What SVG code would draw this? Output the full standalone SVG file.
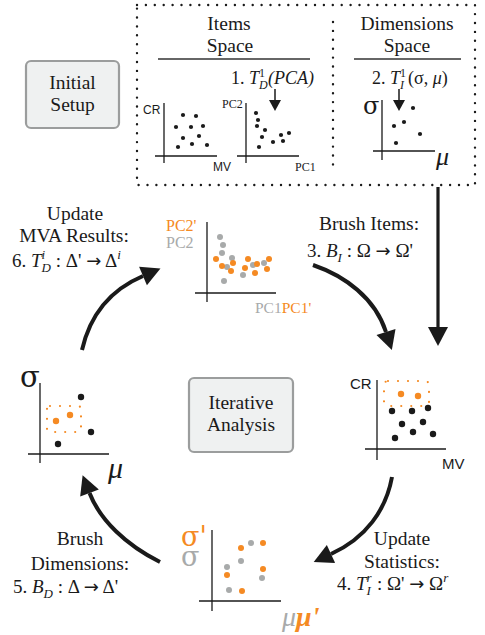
<svg xmlns="http://www.w3.org/2000/svg" width="485" height="635" viewBox="0 0 485 635">
<style>
.s{font-family:"Liberation Serif","Times New Roman",serif;fill:#1a1a1a}
.t{font-size:19.5px;text-anchor:middle}
.f{font-size:19px}
.i{font-style:italic}
.g{font-family:"DejaVu Serif",serif}
.a{font-family:"DejaVu Sans",sans-serif;font-size:18px}
.ss{font-family:"Liberation Sans",Arial,sans-serif;fill:#1a1a1a}
.ax{stroke:#1a1a1a;stroke-width:1.3;fill:none}
.dk{fill:#1a1a1a}
.or{fill:#f58a23}
.gr{fill:#a8aaaa}
.ot{fill:#f58a23}
.gt{fill:#a8aaaa}
.box{fill:#eff1f1;stroke:#9b9d9d;stroke-width:2.2}
.arr{stroke:#1a1a1a;stroke-width:4;fill:none}
.odot{fill:none;stroke:#f58a23;stroke-width:2.2;stroke-linecap:round;stroke-dasharray:0 10}
</style>
<defs>
<marker id="ah" markerUnits="userSpaceOnUse" markerWidth="20" markerHeight="22" refX="0" refY="11" orient="auto" overflow="visible">
<path d="M0,1 L19,11 L0,21 Z" fill="#1a1a1a"/>
</marker>
<marker id="ahs" markerUnits="userSpaceOnUse" markerWidth="12" markerHeight="12" refX="0" refY="6" orient="auto" overflow="visible">
<path d="M0,0 L11,6 L0,12 Z" fill="#1a1a1a"/>
</marker>
</defs>

<g id="initial-setup">
<rect class="box" x="26" y="61" width="93" height="67" rx="5"/>
<text class="s t" x="72.5" y="89">Initial</text>
<text class="s t" x="72.5" y="111">Setup</text>
</g>

<g id="setup-frame">
<rect x="137" y="5" width="338" height="180" fill="none" stroke="#1a1a1a" stroke-width="2.4" stroke-linecap="round" stroke-dasharray="0 8.9"/>
<line x1="333" y1="22" x2="333" y2="166" stroke="#1a1a1a" stroke-width="2.4" stroke-linecap="round" stroke-dasharray="0 8.9"/>
</g>

<g id="items-space">
<text class="s t" x="229" y="30">Items</text>
<text class="s t" x="230" y="52">Space</text>
<line x1="158" y1="59" x2="310" y2="59" stroke="#333" stroke-width="1.5"/>
<text class="s" x="231" y="84" font-size="18">1. <tspan class="i">T</tspan><tspan class="i" font-size="12" dy="5">D</tspan><tspan font-size="12" dx="-8.7" dy="-12">1</tspan><tspan class="i" dx="3" dy="7">(PCA)</tspan></text>
</g>

<g id="plot-cr-mv">
<line class="ax" x1="164" y1="103" x2="164" y2="163"/>
<line class="ax" x1="155" y1="156" x2="217" y2="156"/>
<text class="ss" x="143" y="114" font-size="12">CR</text>
<text class="ss" x="213" y="171" font-size="12">MV</text>
<g class="dk">
<circle cx="183" cy="115" r="2.1"/><circle cx="196" cy="116" r="2.1"/><circle cx="176" cy="127" r="2.1"/><circle cx="191" cy="127" r="2.1"/><circle cx="203" cy="126" r="2.1"/><circle cx="183" cy="138" r="2.1"/><circle cx="199" cy="136" r="2.1"/><circle cx="178" cy="147" r="2.1"/><circle cx="192" cy="144" r="2.1"/><circle cx="207" cy="145" r="2.1"/>
</g>
</g>

<g id="plot-pca">
<line class="ax" x1="246" y1="103" x2="246" y2="163"/>
<line class="ax" x1="237" y1="156" x2="299" y2="156"/>
<text class="s" x="222" y="108" font-size="12">PC2</text>
<text class="s" x="295" y="171" font-size="12">PC1</text>
<g class="dk">
<circle cx="256" cy="113" r="2.1"/><circle cx="258" cy="120" r="2.1"/><circle cx="257" cy="126" r="2.1"/><circle cx="265" cy="130" r="2.1"/><circle cx="262" cy="137" r="2.1"/><circle cx="259" cy="147" r="2.1"/><circle cx="273" cy="142" r="2.1"/><circle cx="283" cy="141" r="2.1"/><circle cx="281" cy="135" r="2.1"/><circle cx="289" cy="133" r="2.1"/>
</g>
</g>

<g id="dimensions-space">
<text class="s t" x="407" y="30">Dimensions</text>
<text class="s t" x="407" y="52">Space</text>
<line x1="354" y1="59" x2="461" y2="59" stroke="#333" stroke-width="1.5"/>
<text class="s" x="372" y="84" font-size="18">2. <tspan class="i">T</tspan><tspan class="i" font-size="12" dy="5">I</tspan><tspan font-size="12" dx="-4" dy="-12">1</tspan><tspan dx="2" dy="7">(σ, <tspan class="i">μ</tspan>)</tspan></text>
</g>

<g id="plot-dims">
<line class="ax" x1="382" y1="100" x2="382" y2="160"/>
<line class="ax" x1="373" y1="151" x2="435" y2="151"/>
<text class="s g" x="363" y="114" font-size="24">σ</text>
<text class="s i" x="436" y="165" font-size="26">μ</text>
<g class="dk">
<circle cx="413" cy="108" r="2.1"/><circle cx="404" cy="122" r="2.1"/><circle cx="394" cy="126" r="2.1"/><circle cx="420" cy="134" r="2.1"/><circle cx="396" cy="143" r="2.1"/>
</g>
</g>

<g id="iterative-analysis">
<rect class="box" x="189" y="378" width="104" height="74" rx="5"/>
<text class="s t" x="241" y="409">Iterative</text>
<text class="s t" x="241" y="431">Analysis</text>
</g>

<g id="plot-mva">
<line class="ax" x1="207" y1="222" x2="207" y2="302"/>
<line class="ax" x1="195" y1="293" x2="276" y2="293"/>
<text class="s ot" x="166" y="231" font-size="16">PC2'</text>
<text class="s gt" x="166" y="248" font-size="16">PC2</text>
<text class="s" x="255" y="313" font-size="15.5"><tspan class="gt">PC1</tspan><tspan class="ot">PC1'</tspan></text>
<g class="gr">
<circle cx="220" cy="237" r="3"/><circle cx="223" cy="245" r="3"/><circle cx="222" cy="253" r="3"/><circle cx="232" cy="258" r="3"/><circle cx="227" cy="267" r="3"/><circle cx="224" cy="281" r="3"/><circle cx="243" cy="275" r="3"/><circle cx="253" cy="265" r="3"/><circle cx="264" cy="263" r="3"/>
</g>
<g class="or">
<circle cx="216" cy="259" r="3"/><circle cx="222" cy="266" r="3"/><circle cx="233" cy="263" r="3"/><circle cx="231" cy="271" r="3"/><circle cx="248" cy="259" r="3"/><circle cx="245" cy="268" r="3"/><circle cx="257" cy="264" r="3"/><circle cx="255" cy="273" r="3"/><circle cx="269" cy="259" r="3"/><circle cx="267" cy="269" r="3"/>
</g>
</g>

<g id="plot-items-brush">
<line class="ax" x1="377" y1="380" x2="377" y2="460"/>
<line class="ax" x1="365" y1="449" x2="446" y2="449"/>
<text class="ss" x="350" y="389" font-size="15">CR</text>
<text class="ss" x="442" y="469" font-size="15">MV</text>
<rect class="odot" x="384" y="381" width="45" height="25" rx="4"/>
<g class="or"><circle cx="401" cy="394" r="3.2"/><circle cx="418" cy="396" r="3.2"/></g>
<g class="dk">
<circle cx="392" cy="411" r="3.2"/><circle cx="412" cy="411" r="3.2"/><circle cx="428" cy="408" r="3.2"/><circle cx="402" cy="424" r="3.2"/><circle cx="423" cy="422" r="3.2"/><circle cx="395" cy="438" r="3.2"/><circle cx="413" cy="432" r="3.2"/><circle cx="433" cy="434" r="3.2"/>
</g>
</g>

<g id="plot-dims-brush">
<line class="ax" x1="40" y1="383" x2="40" y2="463"/>
<line class="ax" x1="28" y1="454" x2="109" y2="454"/>
<text class="s g" x="20" y="387" font-size="29">σ</text>
<text class="s i" x="108" y="478" font-size="30">μ</text>
<rect class="odot" x="47" y="406" width="34" height="26" rx="3"/>
<g class="or"><circle cx="56" cy="421" r="3.2"/><circle cx="70" cy="415" r="3.2"/></g>
<g class="dk"><circle cx="81" cy="397" r="3.2"/><circle cx="91" cy="432" r="3.2"/><circle cx="58" cy="444" r="3.2"/></g>
</g>

<g id="plot-stats">
<line class="ax" x1="212" y1="530" x2="212" y2="611"/>
<line class="ax" x1="199" y1="601" x2="281" y2="601"/>
<text class="s g ot" x="181" y="546" font-size="27">σ'</text>
<text class="s g gt" x="181" y="566" font-size="27">σ</text>
<text class="s i" x="282" y="626" font-size="28"><tspan class="gt">μ</tspan><tspan class="ot" font-weight="bold">μ'</tspan></text>
<g class="gr"><circle cx="251" cy="543" r="3"/><circle cx="241" cy="561" r="3"/><circle cx="227" cy="567" r="3"/><circle cx="262" cy="578" r="3"/><circle cx="229" cy="590" r="3"/></g>
<g class="or"><circle cx="263" cy="543" r="3"/><circle cx="241" cy="548" r="3"/><circle cx="227" cy="575" r="3"/><circle cx="263" cy="569" r="3"/><circle cx="242" cy="591" r="3"/></g>
</g>

<g id="connectors">
<line x1="275" y1="89" x2="275" y2="100" stroke="#1a1a1a" stroke-width="1.5" marker-end="url(#ahs)"/>
<line x1="399" y1="89" x2="399" y2="100" stroke="#1a1a1a" stroke-width="1.5" marker-end="url(#ahs)"/>
<line x1="438" y1="187" x2="438" y2="327" stroke="#1a1a1a" stroke-width="3.2" marker-end="url(#ah)"/>
<path class="arr" d="M313,265 C345,276 375,298 386,332" marker-end="url(#ah)"/>
<path class="arr" d="M392,477 C386,510 366,538 331,554" marker-end="url(#ah)"/>
<path class="arr" d="M160,562 C126,545 100,520 89.5,493" marker-end="url(#ah)"/>
<path class="arr" d="M82,350 C90,315 110,290 143,276" marker-end="url(#ah)"/>
</g>

<g id="labels">
<text class="s t" x="75" y="220">Update</text>
<text class="s t" x="74" y="242">MVA Results:</text>
<text class="s f" x="12" y="267">6. <tspan class="i">T</tspan><tspan class="i" font-size="13" dy="5">D</tspan><tspan class="i" font-size="13" dx="-9.4" dy="-13">i</tspan><tspan dx="5.8" dy="8"> : Δ' </tspan><tspan class="a">→</tspan> Δ<tspan class="i" font-size="13" dy="-8">i</tspan></text>

<text class="s t" x="369" y="230">Brush Items:</text>
<text class="s f" x="307" y="257">3. <tspan class="i">B</tspan><tspan class="i" font-size="13" dy="5">I</tspan><tspan dy="-5"> : Ω </tspan><tspan class="a">→</tspan> Ω'</text>

<text class="s t" x="402" y="545">Update</text>
<text class="s t" x="402" y="568">Statistics:</text>
<text class="s f" x="337" y="590">4. <tspan class="i">T</tspan><tspan class="i" font-size="13" dy="5">I</tspan><tspan class="i" font-size="13" dx="-4.3" dy="-13">r</tspan><tspan dx="0.5" dy="8"> : Ω' </tspan><tspan class="a">→</tspan> Ω<tspan class="i" font-size="13" dy="-8">r</tspan></text>

<text class="s t" x="80" y="545">Brush</text>
<text class="s t" x="80" y="570">Dimensions:</text>
<text class="s f" x="13" y="593">5. <tspan class="i">B</tspan><tspan class="i" font-size="13" dy="5">D</tspan><tspan dy="-5"> : Δ </tspan><tspan class="a">→</tspan> Δ'</text>
</g>
</svg>
